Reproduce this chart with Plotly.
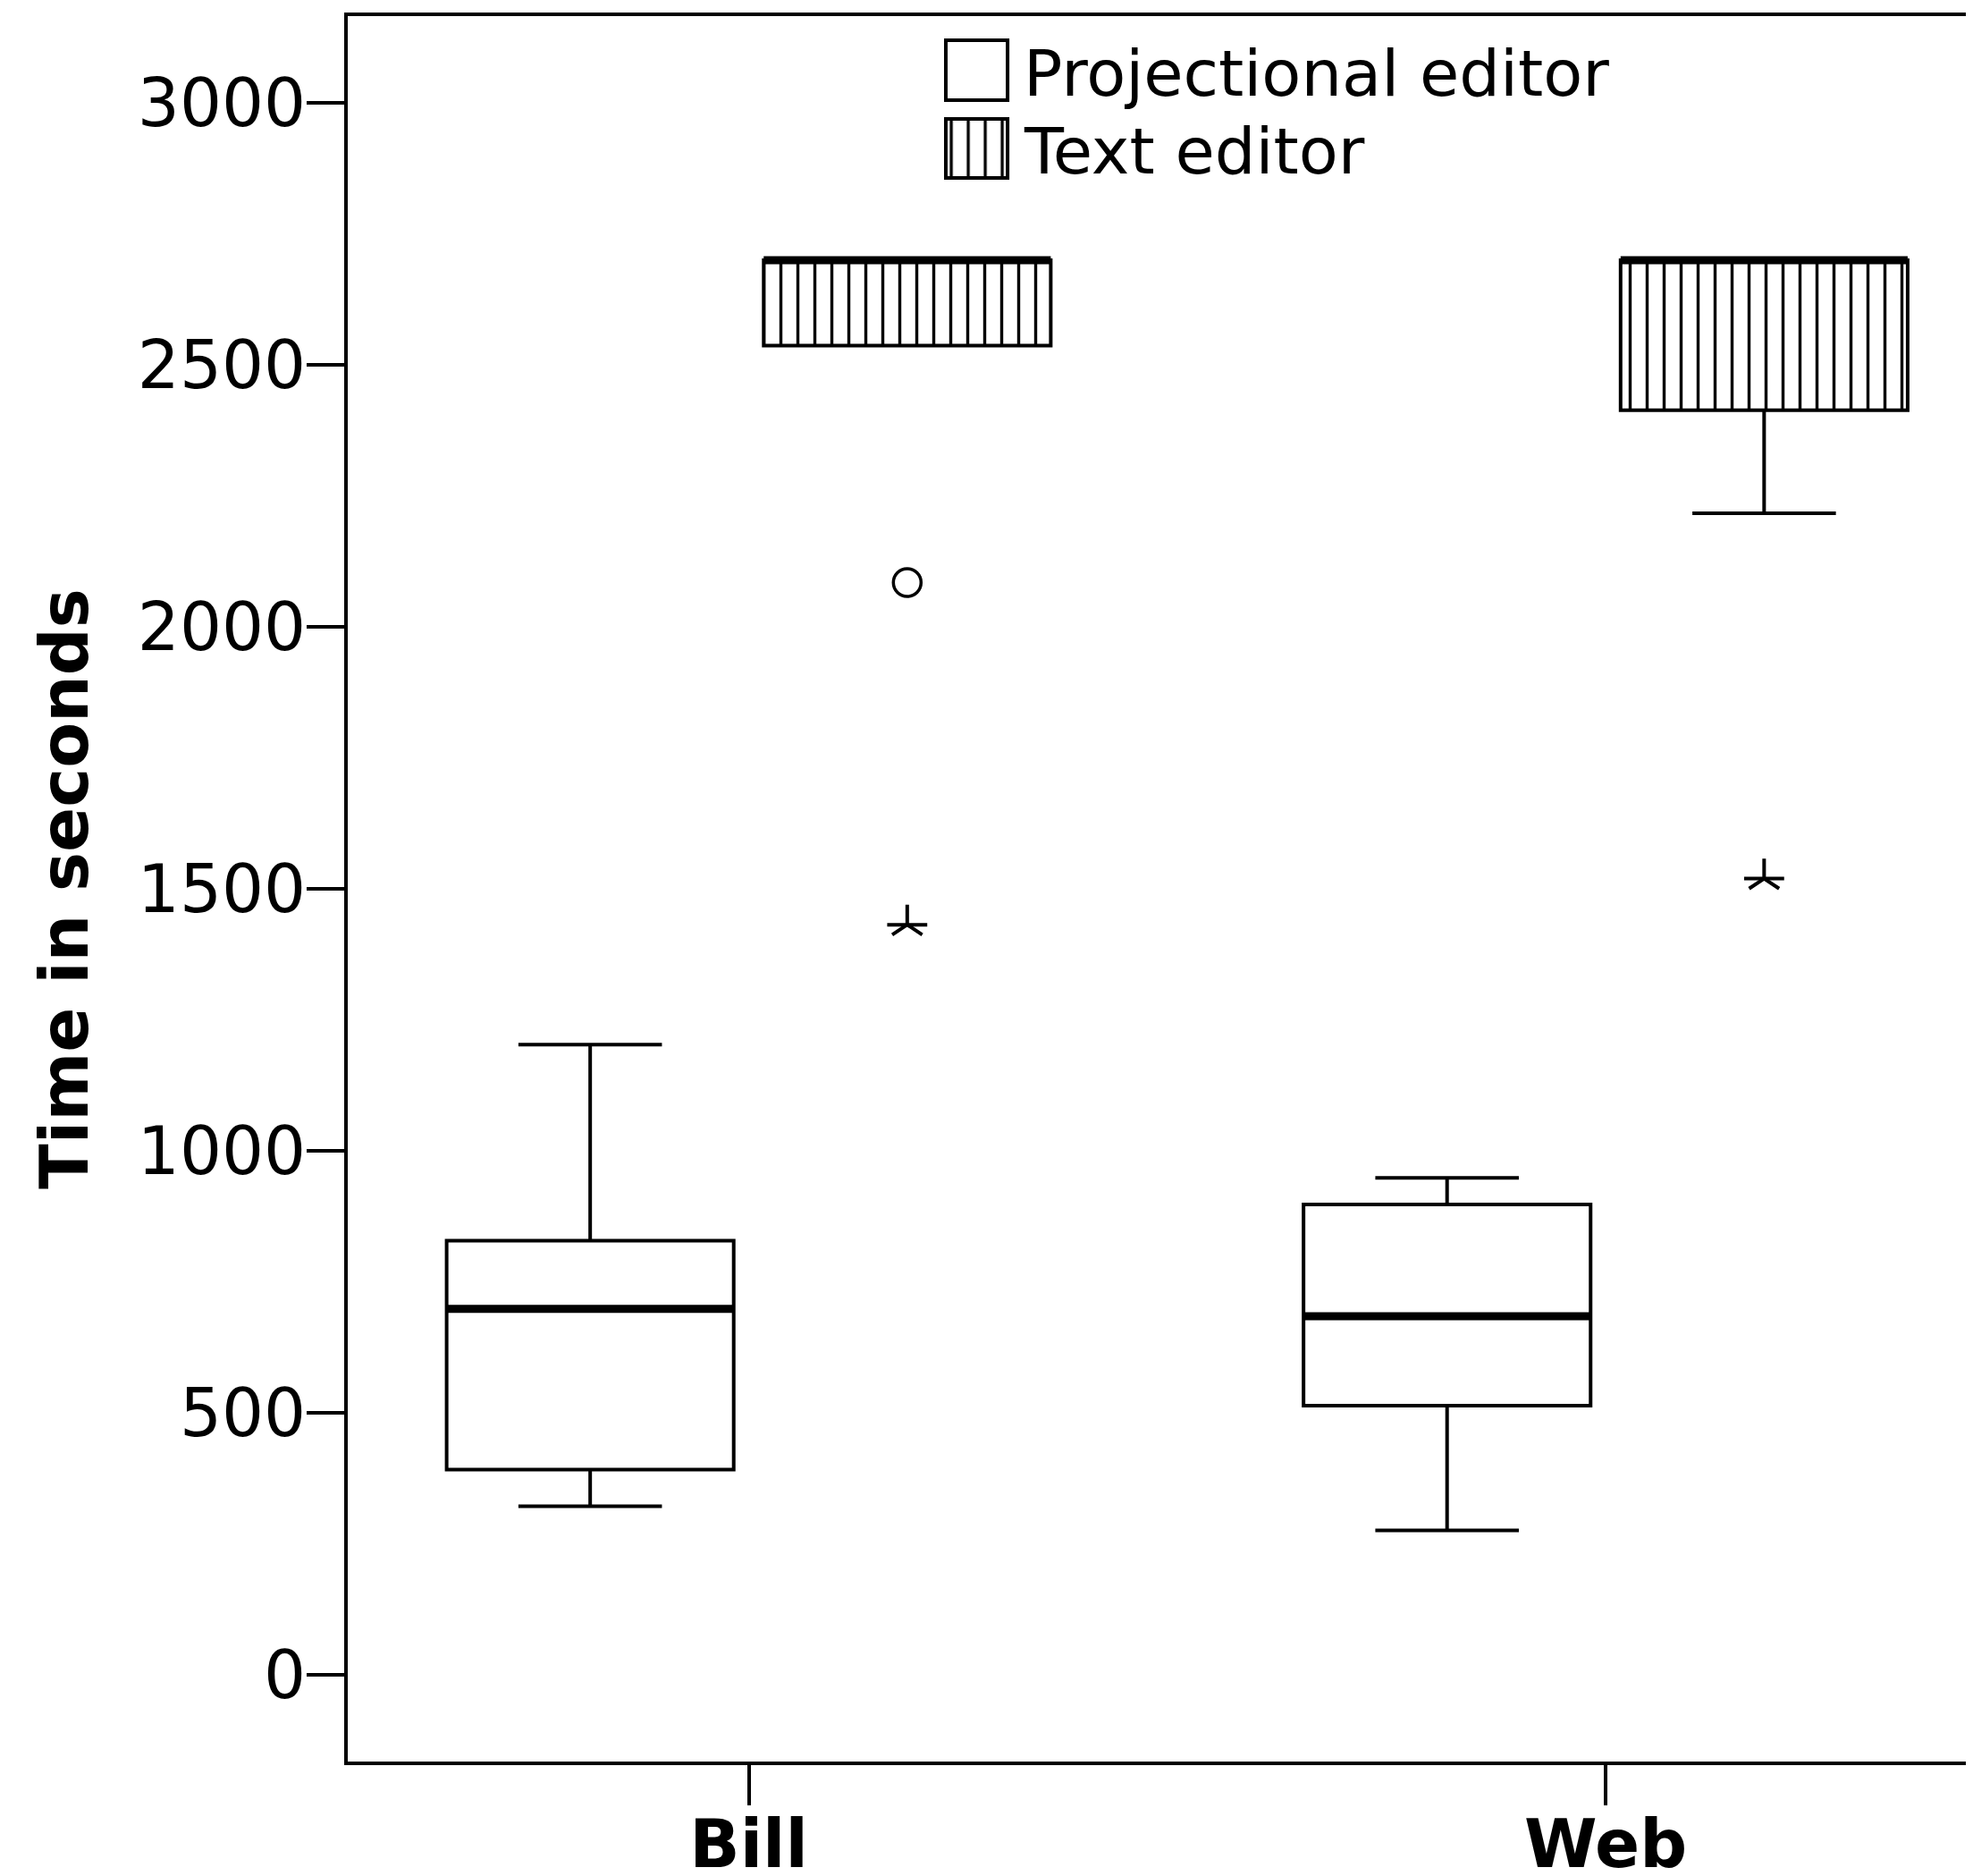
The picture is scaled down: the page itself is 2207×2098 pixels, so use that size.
import plotly.graph_objects as go

# category labels on the x axis
groups = ['Bill', 'Web']
editors = ['Projectional editor', 'Text editor']

# box statistics (seconds) per editor, one value per group
proj_q1 = [392, 514]
proj_median = [699, 685]
proj_q3 = [829, 898]
proj_low = [322, 276]
proj_high = [1203, 949]

text_q1 = [2537, 2414]
text_median = [2700, 2700]
text_q3 = [2700, 2700]
text_low = [2537, 2217]
text_high = [2700, 2700]

# outliers of the text editor boxes
circle_group = [0]
circle_value = [2085]
star_group = [0, 1]
star_value = [1432, 1520]

y_ticks = [0, 500, 1000, 1500, 2000, 2500, 3000]

FONT = 'DejaVu Sans'
FS = 74
OFFSET = 0.185
BOX_W = 0.335
LW = 4

proj_x = [i - OFFSET for i in range(len(groups))]
text_x = [i + OFFSET for i in range(len(groups))]

stripes = dict(shape='|', size=19, solidity=0.18, fgcolor='black',
               bgcolor='white', fgopacity=1, fillmode='replace')

fig = go.Figure()

# hatched fill behind the text editor boxes
fig.add_trace(go.Bar(
    x=text_x, y=[h - l for h, l in zip(text_q3, text_q1)], base=text_q1,
    width=BOX_W,
    marker=dict(color='white', line=dict(width=0), pattern=stripes),
    showlegend=False, hoverinfo='skip'))

fig.add_trace(go.Box(
    x=proj_x, q1=proj_q1, median=proj_median, q3=proj_q3,
    lowerfence=proj_low, upperfence=proj_high,
    width=BOX_W, whiskerwidth=0.5, boxpoints=False,
    fillcolor='white', line=dict(color='black', width=LW),
    name=editors[0], showlegend=False))

fig.add_trace(go.Box(
    x=text_x, q1=text_q1, median=text_median, q3=text_q3,
    lowerfence=text_low, upperfence=text_high,
    width=BOX_W, whiskerwidth=0.5, boxpoints=False,
    fillcolor='rgba(0,0,0,0)', line=dict(color='black', width=LW),
    name=editors[1], showlegend=False))

# thick median lines
mx, my = [], []
for xs, ms in [(proj_x, proj_median), (text_x, text_median)]:
    for x, m in zip(xs, ms):
        mx += [x - BOX_W / 2, x + BOX_W / 2, None]
        my += [m, m, None]
fig.add_trace(go.Scatter(x=mx, y=my, mode='lines',
                         line=dict(color='black', width=9),
                         showlegend=False, hoverinfo='skip'))

# outliers: open circle and a five-armed star
fig.add_trace(go.Scatter(
    x=[text_x[g] for g in circle_group], y=circle_value, mode='markers',
    marker=dict(symbol='circle-open', size=31, color='black',
                line=dict(width=3.5, color='black')),
    showlegend=False))
star_x = [text_x[g] for g in star_group]
for sym, sz in [('y-up-open', 28), ('line-ew-open', 32)]:
    fig.add_trace(go.Scatter(
        x=star_x, y=star_value, mode='markers',
        marker=dict(symbol=sym, size=sz, color='black',
                    line=dict(width=4, color='black')),
        showlegend=False))

# legend icons drawn on a small overlay axis
fig.add_trace(go.Bar(
    x=[0.5], y=[67], base=[87], width=1, xaxis='x2', yaxis='y2',
    marker=dict(color='white', line=dict(color='black', width=LW)),
    showlegend=False, hoverinfo='skip'))
fig.add_trace(go.Bar(
    x=[0.5], y=[66], base=[0], width=1, xaxis='x2', yaxis='y2',
    marker=dict(color='white', line=dict(color='black', width=LW),
                pattern=stripes),
    showlegend=False, hoverinfo='skip'))

fig.update_layout(
    width=2207, height=2098,
    margin=dict(l=381, r=0, t=10, b=136, autoexpand=False),
    paper_bgcolor='white', plot_bgcolor='white',
    barmode='overlay', showlegend=False,
    font=dict(family=FONT, size=FS, color='black'),
    xaxis=dict(range=[-0.4679, 1.4371], tickvals=list(range(len(groups))),
               ticktext=['<b>%s</b>' % g for g in groups],
               ticks='outside', ticklen=45, tickwidth=4, tickcolor='black',
               showline=True, linewidth=4, linecolor='black', mirror=True,
               showgrid=False, zeroline=False, automargin=False,
               ticklabelstandoff=-20,
               tickfont=dict(family=FONT, size=FS)),
    yaxis=dict(range=[-165, 3166], tickvals=y_ticks,
               ticks='outside', ticklen=42, tickwidth=4, tickcolor='black',
               showline=True, linewidth=4, linecolor='black',
               showgrid=False, zeroline=False, automargin=False,
               ticklabelstandoff=-14,
               tickfont=dict(family=FONT, size=FS),
               title=dict(text='<b>Time in seconds</b>', standoff=32,
                          font=dict(family=FONT, size=FS))),
    xaxis2=dict(domain=[0.3645, 0.4061], range=[-0.05, 1.05], visible=False,
                anchor='y2'),
    yaxis2=dict(domain=[0.9058, 0.9877], range=[-3, 157], visible=False,
                anchor='x2'),
    annotations=[
        dict(text=editors[0], x=0.4129, y=0.9672, xref='paper', yref='paper',
             xanchor='left', yanchor='middle', showarrow=False,
             font=dict(family=FONT, size=72)),
        dict(text=editors[1], x=0.4129, y=0.9227, xref='paper', yref='paper',
             xanchor='left', yanchor='middle', showarrow=False,
             font=dict(family=FONT, size=72)),
    ],
)

fig.write_html('out.html')
